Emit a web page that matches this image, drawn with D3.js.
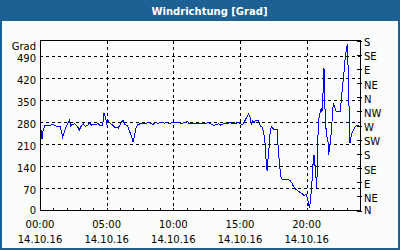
<!DOCTYPE html>
<html>
<head>
<meta charset="utf-8">
<script src="https://cdn.jsdelivr.net/npm/d3@7"></script>
<style>
  body { margin: 0; background: #ffffff; }
  svg { display: block; }
  text { font-family: "DejaVu Sans", sans-serif; font-size: 10px; fill: #000; }
</style>
</head>
<body>
<div id="chart"></div>
<script>
// wind direction in degrees (time in hours of 14.10.16)
const hours = [0.10,0.15,0.23,0.35,0.75,0.85,1.05,1.15,1.35,1.50,1.60,1.70,1.85,2.00,2.20,2.30,2.40,2.60,2.80,2.95,
  3.10,3.25,3.40,3.60,3.75,3.85,4.05,4.20,4.35,4.50,4.70,4.80,4.90,5.00,5.10,5.25,5.40,5.60,5.87,6.08,
  6.23,6.38,6.58,6.73,6.88,6.98,7.07,7.18,7.33,7.48,7.73,7.97,8.12,8.33,8.48,8.63,8.87,9.13,9.32,9.47,
  9.68,9.88,10.13,10.37,10.63,10.88,11.08,11.18,11.38,11.63,11.90,12.15,12.40,12.65,12.80,12.95,13.05,13.20,13.40,13.55,
  13.75,13.90,14.10,14.25,14.40,14.70,14.85,15.05,15.15,15.30,15.45,15.55,15.65,15.75,15.85,15.95,16.05,16.15,16.39,16.52,
  16.67,16.78,16.88,16.97,17.03,17.12,17.23,17.27,17.38,17.48,17.57,17.78,17.87,17.98,18.08,18.17,18.38,18.62,18.73,18.88,
  19.03,19.13,19.22,19.37,19.52,19.69,19.84,19.95,20.05,20.15,20.20,20.25,20.30,20.35,20.40,20.45,20.50,20.55,20.60,20.65,
  20.70,20.75,20.80,20.85,20.90,20.95,21.00,21.10,21.15,21.20,21.25,21.30,21.35,21.40,21.50,21.60,21.65,21.75,21.85,21.90,
  21.95,22.00,22.10,22.20,22.30,22.50,22.55,22.60,22.70,22.80,22.85,22.90,23.00,23.05,23.10,23.15,23.20,23.25,23.30,23.40,
  23.50,23.65,23.80,23.90];
const degrees = [256,227,254,269,269,273,272,269,267,267,251,233,254,269,285,269,273,275,267,256,
  269,275,267,272,281,271,275,271,277,269,269,311,298,277,286,277,273,265,262,279,
  286,273,269,250,235,218,233,260,273,275,275,277,279,277,273,279,277,281,277,281,
  275,279,279,279,277,279,284,275,277,275,277,275,277,279,275,273,269,273,275,271,
  275,275,277,281,277,277,281,275,271,279,292,298,307,296,275,284,279,286,286,269,
  265,246,214,151,127,172,225,256,267,260,256,256,193,140,104,100,98,98,96,88,
  75,69,66,62,57,52,47,53,38,23,9,19,40,61,93,135,156,177,151,135,
  103,72,135,240,282,304,309,325,314,346,398,451,367,282,240,219,177,209,251,282,
  314,341,330,316,314,314,325,356,398,440,462,493,514,530,462,398,272,214,230,246,
  256,267,270,270];

const leftTicks = [0, 70, 140, 210, 280, 350, 420, 490];
const rightTicks = [0, 45, 90, 135, 180, 225, 270, 315, 360, 405, 450, 495, 540];
const rightLabels = ["N", "NE", "E", "SE", "S", "SW", "W", "NW", "N", "NE", "E", "SE", "S"];
const dateLabel = "14.10.16";

const W = 400, H = 250;
const margin = { top: 40, right: 40, bottom: 39, left: 40 };
const day = new Date(2016, 9, 14);
const dayEnd = new Date(+day + 24 * 3600e3);
const data = hours.map((h, i) => ({ t: new Date(+day + h * 3600e3), v: degrees[i] }));

const svg = d3.select("#chart").append("svg")
  .attr("width", W).attr("height", H);

// frame + title bar
svg.append("rect").attr("x", 0).attr("y", 0).attr("width", W).attr("height", H).attr("fill", "#1c6094");
svg.append("rect").attr("x", 2).attr("y", 21).attr("width", W - 4).attr("height", H - 23).attr("fill", "#fbfdfb");
svg.append("text")
  .attr("x", 209.5).attr("y", 14.5)
  .attr("text-anchor", "middle")
  .style("font-weight", "bold").style("font-size", "10px")
  .style("fill", "#ffffff")
  .text("Windrichtung [Grad]");

const x = d3.scaleTime()
  .domain([day, dayEnd])
  .range([margin.left, W - margin.right]);
const y = d3.scaleLinear()
  .domain([0, 540])
  .range([H - margin.bottom - 0.5, margin.top + 0.5]);

const g = svg.append("g").attr("shape-rendering", "crispEdges");

// grid
g.selectAll(".hgrid").data(leftTicks.filter(d => d > 0)).enter().append("line")
  .attr("x1", x.range()[0]).attr("x2", x.range()[1])
  .attr("y1", d => Math.round(y(d)) + 0.5).attr("y2", d => Math.round(y(d)) + 0.5)
  .attr("stroke", "#000").attr("stroke-dasharray", "3,3");
const majorTimes = d3.timeHour.every(5).range(day, dayEnd);
g.selectAll(".vgrid").data(majorTimes.filter(d => +d > +day)).enter().append("line")
  .attr("x1", d => Math.round(x(d)) + 0.5).attr("x2", d => Math.round(x(d)) + 0.5)
  .attr("y1", y.range()[1]).attr("y2", y.range()[0])
  .attr("stroke", "#000").attr("stroke-dasharray", "3,3");

// data line
svg.append("path")
  .datum(data)
  .attr("fill", "none")
  .attr("stroke", "#0000ff")
  .attr("stroke-width", 1)
  .attr("shape-rendering", "crispEdges")
  .attr("d", d3.line().x(d => x(d.t)).y(d => y(d.v)));

// plot border
g.append("rect")
  .attr("x", margin.left + 0.5).attr("y", margin.top + 0.5)
  .attr("width", W - margin.left - margin.right).attr("height", H - margin.top - margin.bottom - 1)
  .attr("fill", "none").attr("stroke", "#000");

// bottom axis: hourly inward ticks, labels every 5 hours
const xAxis = svg.append("g")
  .attr("transform", `translate(0,${H - margin.bottom})`)
  .call(d3.axisBottom(x).ticks(d3.timeHour.every(1)).tickSize(-3).tickFormat(""));
xAxis.select(".domain").remove();
xAxis.selectAll("line").attr("shape-rendering", "crispEdges");
const xLab = svg.append("g").selectAll("text").data(majorTimes).enter();
xLab.append("text")
  .attr("x", d => x(d)).attr("y", 228).attr("text-anchor", "middle")
  .text(d3.timeFormat("%H:%M"));
xLab.append("text")
  .attr("x", d => x(d)).attr("y", 243).attr("text-anchor", "middle")
  .text(dateLabel);

// left axis labels
const yl = svg.append("g")
  .attr("transform", `translate(${margin.left},0)`)
  .call(d3.axisLeft(y).tickValues(leftTicks).tickSize(0).tickPadding(4));
yl.select(".domain").remove();
yl.selectAll("text").attr("font-family", null).attr("font-size", null)
  .attr("dy", d => d === 0 ? "3px" : "5px");
svg.append("text").attr("x", 36).attr("y", 49.5).attr("text-anchor", "end").text("Grad");

// right axis: compass directions
const yr = svg.append("g")
  .attr("transform", `translate(${W - margin.right},0)`)
  .call(d3.axisRight(y).tickValues(rightTicks).tickSize(0).tickPadding(4)
    .tickFormat((d, i) => rightLabels[i]));
yr.select(".domain").remove();
yr.selectAll("text").attr("font-family", null).attr("font-size", null)
  .attr("dy", d => d === 0 ? "3px" : "5px");
svg.append("g").attr("shape-rendering", "crispEdges")
  .selectAll("line").data(rightTicks).enter().append("line")
  .attr("x1", W - margin.right - 3).attr("x2", W - margin.right + 2)
  .attr("y1", d => Math.round(y(d)) + 0.5).attr("y2", d => Math.round(y(d)) + 0.5)
  .attr("stroke", "#000");
</script>
</body>
</html>
